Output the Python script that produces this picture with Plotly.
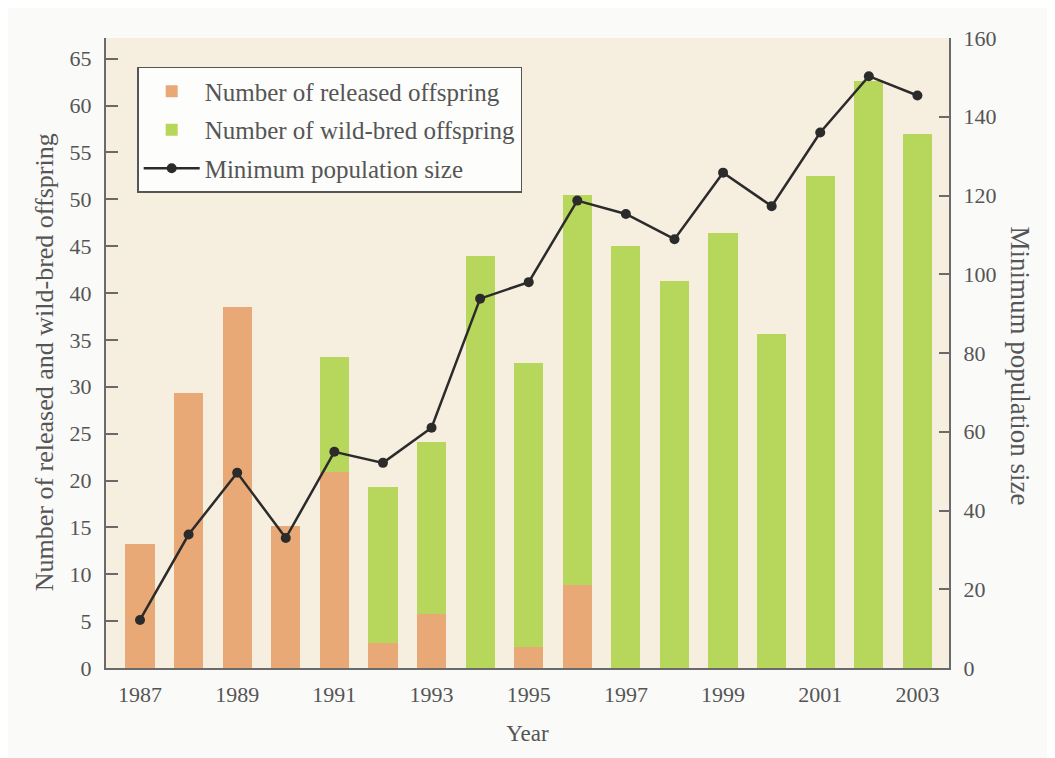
import plotly.graph_objects as go

years = list(range(1987, 2004))
released = [13.2, 29.3, 38.5, 15.1, 20.9, 2.7, 5.8, 0, 2.2, 8.9, 0, 0, 0, 0, 0, 0, 0]
wild_bred = [0, 0, 0, 0, 12.3, 16.6, 18.3, 43.9, 30.3, 41.6, 45.0, 41.3, 46.4, 35.6, 52.5, 62.6, 57.0]
min_pop = [12.2, 33.9, 49.6, 33.0, 54.9, 52.1, 61.0, 93.8, 98.0, 118.7, 115.3, 108.9, 125.8, 117.3, 136.0, 150.3, 145.4]
x_ticks = [1987, 1989, 1991, 1993, 1995, 1997, 1999, 2001, 2003]
left_ticks = list(range(0, 70, 5))
right_ticks = list(range(0, 180, 20))

FONT = "Liberation Serif"
TXT = "#555555"
AX = "#6a6a6a"

fig = go.Figure()
fig.add_trace(go.Bar(x=years, y=released, name="Number of released offspring", legendgroup="a",
                     marker=dict(color="#e9a977", line=dict(width=0)), width=0.6))
fig.add_trace(go.Bar(x=years, y=wild_bred, name="Number of wild-bred offspring", legendgroup="b",
                     marker=dict(color="#b6d65c", line=dict(width=0)), width=0.6))
fig.add_trace(go.Scatter(x=years, y=min_pop, name="Minimum population size", yaxis="y2",
                         legendgroup="c", mode="lines+markers",
                         line=dict(color="#2b2b2b", width=2.5),
                         marker=dict(color="#2b2b2b", size=10)))

fig.update_layout(
    width=1055, height=758,
    barmode="stack",
    paper_bgcolor="#fafaf9",
    plot_bgcolor="#f6eedf",
    margin=dict(l=98, r=114, t=30, b=98),
    font=dict(family=FONT, size=22, color=TXT),
    showlegend=True,
    legend=dict(x=0.037, y=0.954, xanchor="left", yanchor="top",
                bgcolor="#fdfdfc", bordercolor="#555555", borderwidth=1.5,
                itemwidth=56, tracegroupgap=3, traceorder="grouped",
                font=dict(family=FONT, size=25, color=TXT)),
    xaxis=dict(range=[1986.3, 2003.65], tickvals=x_ticks, ticktext=[str(v) for v in x_ticks],
               showline=True, linecolor=AX, linewidth=2, showgrid=False, zeroline=False,
               ticks="", ticklabelstandoff=6,
               title=dict(text="Year", font=dict(family=FONT, size=23, color=TXT), standoff=18),
               tickfont=dict(family=FONT, size=22, color=TXT)),
    yaxis=dict(range=[0, 67.2], tickvals=left_ticks, showline=True, linecolor=AX, linewidth=2,
               showgrid=False, zeroline=False, ticks="inside", ticklen=12, tickwidth=2, tickcolor=AX,
               ticklabelstandoff=8,
               tickfont=dict(family=FONT, size=22, color=TXT)),
    yaxis2=dict(range=[0, 160], tickvals=right_ticks, overlaying="y", side="right",
                showline=True, linecolor=AX, linewidth=2, showgrid=False, zeroline=False,
                ticks="inside", ticklen=10, tickwidth=2, tickcolor=AX, ticklabelstandoff=8,
                tickfont=dict(family=FONT, size=22, color=TXT)),
)

fig.add_annotation(text="Number of released and wild-bred offspring", xref="paper", yref="paper",
                   x=-0.073, y=0.486, xanchor="center", yanchor="middle", textangle=-90,
                   showarrow=False, font=dict(family=FONT, size=26, color=TXT))
fig.add_annotation(text="Minimum population size", xref="paper", yref="paper",
                   x=1.084, y=0.479, xanchor="center", yanchor="middle", textangle=90,
                   showarrow=False, font=dict(family=FONT, size=27, color=TXT))

fig.write_html("out.html")
